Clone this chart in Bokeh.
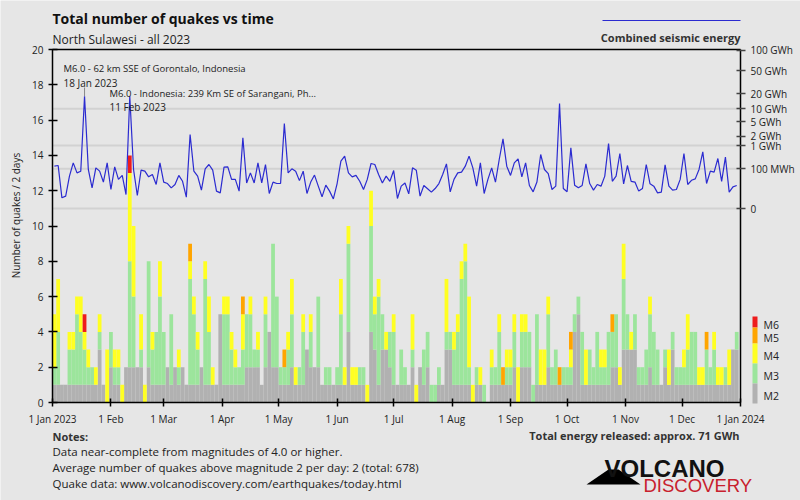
import math
from bokeh.plotting import figure
from bokeh.models import (Range1d, LinearAxis, FixedTicker, ColumnDataSource, Label,
                          PolyAnnotation)
from bokeh.embed import file_html
from bokeh.resources import INLINE

# ---------------- data (one bar per 2 days, from 1 Jan 2023) ----------------
m2 = [1,1,1,1,1,1,1,1,1,1, 1,1,3,1,0,2,1,1,0,2, 2,2,2,2,0,2,1,1,1,1,
      2,1,2,1,2,1,1,1,1,2, 1,1,1,1,5,1,1,1,1,1, 1,2,2,2,2,1,2,4,2,2,
      1,1,1,2,1,1,1,3,2,2, 2,1,1,1,1,1,1,1,4,1, 1,1,1,0,4,3,1,3,3,2,
      1,1,1,1,1,2,0,2,1,2, 0,0,1,1,3,3,1,1,1,1, 1,0,1,1,0,0,1,1,1,1,
      1,1,2,0,2,2,2,0,1,1, 1,2,1,1,1,1,1,1,4,5, 1,1,1,1,1,1,1,1,2,2,
      1,3,3,3,3,1,1,1,2,1, 1,1,2,1,3,1,1,1,1,1, 1,1,1,1,1,1,1,1,1,1,
      3,3]
m3 = [1,3,0,0,2,2,4,3,2,1, 1,0,1,0,0,2,1,1,0,0, 6,4,0,1,0,6,2,3,5,3,
      0,4,0,1,0,0,6,4,2,0, 6,3,0,0,0,4,4,2,1,1, 2,3,3,1,1,0,3,0,7,4,
      1,1,2,3,0,1,3,0,2,0, 4,0,1,1,0,1,4,0,5,0, 0,1,1,0,6,2,5,2,0,2,
      3,0,2,1,0,1,0,0,2,2, 1,1,1,0,1,1,2,3,6,7, 1,0,1,0,1,0,1,1,3,0,
      1,1,2,0,2,2,2,1,4,0, 0,3,1,2,0,1,1,1,1,1, 3,0,2,1,3,1,1,3,2,3,
      0,4,2,0,2,1,1,2,3,3, 2,0,1,0,1,1,1,1,2,3, 3,0,0,2,1,2,0,0,1,0,
      0,1]
m4 = [3,3,0,0,1,1,1,2,1,1, 0,1,1,0,3,0,1,1,1,0, 5,4,0,2,1,0,1,0,2,0,
      0,0,0,1,0,0,1,1,1,0, 1,2,1,0,0,1,1,1,1,0, 2,0,1,0,1,0,1,0,0,0,
      0,0,1,2,1,0,1,0,1,0, 0,0,0,0,0,0,2,1,1,1, 1,0,0,1,2,1,1,0,1,0,
      1,0,0,0,0,2,1,0,0,0, 0,0,0,0,3,0,1,1,1,1, 4,1,0,1,0,0,1,0,1,0,
      1,1,1,2,1,1,0,0,0,2, 2,1,0,0,0,0,0,1,0,0, 0,2,0,0,0,1,1,0,0,0,
      1,2,0,1,0,0,0,0,1,0, 0,0,0,2,0,0,0,1,2,0, 0,1,1,0,0,1,1,1,0,2,
      0,0]
m5_bins = [36, 50, 61, 119, 134, 137, 148, 173]
m6_bins = [8, 20]
m5 = [1 if i in m5_bins else 0 for i in range(len(m2))]
m6 = [1 if i in m6_bins else 0 for i in range(len(m2))]

# combined seismic energy per 2-day bin, MWh
energy_mwh = [137,148,0.14,0.29,36,200,58,73,18000,91,
              3.8,112,73,13,200,2.5,127,21,40,0.54,
              18000,91,0.37,83,73,32,46,8,200,13,
              9.8,3.8,8,40,15,0.19,2240,73,36,2.1,
              99,166,83,1.6,0.95,121,127,21,21,1.6,
              1780,11,58,11,200,11,166,0.76,13,9.8,
              9.8,4470,58,99,73,17,73,0.76,13,42,
              5.6,0.22,7,1.6,0.08,9.8,239,396,58,32,
              40,15,2.5,21,186,166,46,11,36,15,
              80,0.1,5.6,11,0.68,112,83,0.29,6.5,3.0,
              1.2,3.2,9.8,46,179,1.3,21,58,64,137,
              396,112,5.6,200,0.76,21,112,13,285,1650,
              137,40,200,300,32,200,6.5,1.3,13,462,
              91,52,2.5,5.6,12860,3.2,1.3,828,7,3.8,
              6.5,179,9.8,2.1,8,5.6,36,1170,15,36,
              507,9.2,148,15,13,1.6,3.2,166,9.2,5.6,
              0.95,1.2,160,5.6,2.1,2.5,21,507,8,18,
              23,91,589,9.8,73,64,315,15,359,1.2,
              4.8,6.5]

month_ticks = [0, 31, 59, 90, 120, 151, 181, 212, 243, 273, 304, 334, 365]
month_labels = ["1 Jan 2023", "1 Feb", "1 Mar", "1 Apr", "1 May", "1 Jun", "1 Jul",
                "1 Aug", "1 Sep", "1 Oct", "1 Nov", "1 Dec", "1 Jan 2024"]
count_ticks = [0, 2, 4, 6, 8, 10, 12, 14, 16, 18, 20]
energy_tick_gwh = [100, 50, 20, 10, 5, 2, 1, 0.1, 0]
energy_tick_labels = ["100 GWh", "50 GWh", "20 GWh", "10 GWh", "5 GWh", "2 GWh",
                      "1 GWh", "100 MWh", "0"]
energy_grid_gwh = [10, 1, 0.1, 0]
mag_classes = ["M6", "M5", "M4", "M3", "M2"]

# ---------------- styling / layout ----------------
BG = "#e6e6e6"
FONT = "Open Sans"
C_M2, C_M3, C_M4, C_M5, C_M6 = "#b1b1b1", "#9ce59c", "#ffff22", "#ffa500", "#ee1c1c"
C_LINE = "#2b2bd0"
C_TXT = "#222222"

W, H = 800, 500
FL, FR, FT, FB = 52, 740, 49, 402       # plotting area in page pixels
X_DAYS, Y_MAX = 365, 20
E_ZERO_PX, E_PX_PER_UNIT = 208, 63      # energy scale: 5th root of GWh


def dx(px):
    return (px - FL) * X_DAYS / (FR - FL)


def dy(py):
    return (FB - py) * Y_MAX / (FB - FT)


def de(py):
    return (E_ZERO_PX - py) / E_PX_PER_UNIT


def et(gwh):
    return round(gwh ** 0.2, 6) if gwh > 0 else 0.0


n = len(m2)
xs = [2 * i + 1 for i in range(n)]
src = ColumnDataSource(dict(x=xs, m2=m2, m3=m3, m4=m4, m5=m5, m6=m6,
                            et=[et(e / 1000.0) for e in energy_mwh]))

# the frame spans the whole canvas; axes are pinned with fixed_location
p = figure(width=W, height=H, output_backend="svg", toolbar_location=None,
           x_range=Range1d(dx(0), dx(W)), y_range=Range1d(dy(H), dy(0)),
           min_border=0, min_border_left=0, min_border_right=0, min_border_top=0,
           min_border_bottom=0, background_fill_color=BG, border_fill_color=BG,
           outline_line_color=None)
p.xgrid.visible = False
p.ygrid.visible = False
p.extra_y_ranges = {"energy": Range1d(de(H), de(0))}

# energy grid lines
for g in energy_grid_gwh:
    r = p.segment(x0=[0], y0=[et(g)], x1=[X_DAYS], y1=[et(g)], y_range_name="energy",
                  line_color="#d2d2d2", line_width=2)
    r.level = "underlay"

p.vbar_stack(["m2", "m3", "m4", "m5", "m6"], x="x", width=2.0, source=src,
             fill_color=[C_M2, C_M3, C_M4, C_M5, C_M6], line_color=None)

p.line("x", "et", source=src, y_range_name="energy", line_color=C_LINE, line_width=1.2)

# annotation leader line for 18 Jan event
p.segment(x0=[17], y0=[et(18.0)], x1=[17], y1=[de(87)], y_range_name="energy",
          line_color="#888888", line_width=1)

# axes
xax = p.xaxis[0]
yax = p.yaxis[0]
for ax in [xax, yax]:
    ax.axis_line_width = 1.5
    ax.major_tick_line_width = 1.5
    ax.minor_tick_line_color = None
    ax.major_label_text_font = FONT
    ax.major_label_text_font_size = "10px"
    ax.major_label_text_color = C_TXT
xax.fixed_location = 0
xax.bounds = (0, X_DAYS)
xax.ticker = FixedTicker(ticks=month_ticks)
xax.major_label_overrides = {t: l for t, l in zip(month_ticks, month_labels)}
xax.major_tick_in = 4
xax.major_tick_out = 4
yax.fixed_location = 0
yax.bounds = (0, Y_MAX)
yax.ticker = FixedTicker(ticks=count_ticks)
yax.major_tick_in = 5
yax.major_tick_out = 4

rax = LinearAxis(y_range_name="energy", fixed_location=X_DAYS, bounds=(de(FB), de(FT)),
                 ticker=FixedTicker(ticks=[et(v) for v in energy_tick_gwh]),
                 major_label_overrides={et(v): l for v, l in zip(energy_tick_gwh, energy_tick_labels)},
                 axis_line_width=1.5, major_tick_line_width=1.5, major_tick_line_color="#444444",
                 major_tick_in=4, major_tick_out=5, minor_tick_line_color=None,
                 major_label_text_font=FONT, major_label_text_font_size="10px",
                 major_label_text_color=C_TXT)
p.add_layout(rax, "right")

# top border line of the plotting area
tax = LinearAxis(fixed_location=Y_MAX, bounds=(0, X_DAYS), axis_line_width=1.5,
                 ticker=FixedTicker(ticks=[]), major_tick_line_color=None,
                 minor_tick_line_color=None)
p.add_layout(tax, "above")


def lab(px, py, text, size="10px", bold=False, align="left", color=C_TXT, angle=0.0,
        baseline="alphabetic", font=FONT):
    p.add_layout(Label(x=dx(px), y=dy(py), text=text, text_font=font, text_font_size=size,
                       text_font_style="bold" if bold else "normal", text_align=align,
                       text_baseline=baseline, text_color=color, angle=angle))


def poly(pxs, pys, color):
    p.add_layout(PolyAnnotation(xs=[dx(v) for v in pxs], ys=[dy(v) for v in pys],
                                fill_color=color, fill_alpha=1, line_color=None))


lab(52, 17.5, "Total number of quakes vs time", size="14px", bold=True, color="#111111")
lab(52, 39.3, "North Sulawesi - all 2023", size="12px")
lab(740, 36.7, "Combined seismic energy", size="11px", bold=True, align="right", color="#333333")
poly([602, 740, 740, 602], [19.5, 19.5, 20.6, 20.6], C_LINE)
lab(15, 215, "Number of quakes / 2 days", size="10px", angle=math.pi / 2, align="center",
    baseline="middle")

lab(63, 68.3, "M6.0 - 62 km SSE of Gorontalo, Indonesia", size="9.5px")
lab(63, 82.3, "18 Jan 2023", size="10px")
lab(109, 92.5, "M6.0 - Indonesia: 239 Km SE of Sarangani, Ph...", size="9.5px")
lab(109, 106, "11 Feb 2023", size="10px")

lab(52, 436, "Notes:", size="11px", bold=True, color="#333333")
lab(52, 451, "Data near-complete from magnitudes of 4.0 or higher.", size="11.5px")
lab(52, 467, "Average number of quakes above magnitude 2 per day: 2 (total: 678)", size="11.5px")
lab(52, 483, "Quake data: www.volcanodiscovery.com/earthquakes/today.html", size="11.5px")
lab(739, 435, "Total energy released: approx. 71 GWh", size="11px", bold=True, align="right",
    color="#333333")

# magnitude legend
leg_cols = [C_M6, C_M5, C_M4, C_M3, C_M2]
leg_edges = [316, 327, 343, 363, 383, 403]
leg_text_y = [324.5, 337.5, 355.5, 375.5, 395.5]
for i, (name, col) in enumerate(zip(mag_classes, leg_cols)):
    y0, y1 = leg_edges[i], leg_edges[i + 1]
    poly([752, 757, 757, 752], [y0, y0, y1, y1], col)
    lab(763, leg_text_y[i], name, size="10.5px")

# logo
poly([586, 640, 618, 608], [484, 484, 469, 469], "black")
lab(604, 467.5, "VOLCANO", size="24px", bold=True, color="#111111", font="Liberation Sans")
lab(643, 484.5, "DISCOVERY", size="18.5px", color="#c8202d", font="Liberation Sans")

open("out.html", "w").write(file_html(p, INLINE))
